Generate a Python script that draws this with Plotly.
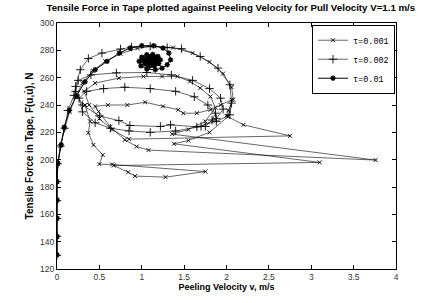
import plotly.graph_objects as go

# ---- data ----
# tau = 0.001  (x markers)
v_001 = [0, 0, 0, 0, 0, 0.01, 0.04, 0.09, 0.15, 0.22, 0.30, 0.42, 0.57, 0.75, 0.95, 1.15, 1.37, 1.60, 1.80, 1.96, 2.06, 2.08, 2.02, 2.00,
         2.20, 2.75, 0.85, 0.65, 0.50, 0.38, 0.32, 0.45, 0.73, 1.02, 1.24, 1.42, 1.57, 1.69, 1.81, 1.87, 1.75, 1.55, 1.36,
         3.76, 1.08, 0.94, 0.80, 0.63, 0.49, 0.45, 0.60, 0.83, 1.04, 1.25, 1.43, 1.49, 1.65, 1.81, 1.93, 2.06, 2.02, 1.80, 1.55, 1.38,
         3.10, 0.67, 0.84, 0.92, 1.28, 1.75, 0.65, 0.50, 0.54, 0.43, 0.37, 0.39, 0.33]
F_001 = [130, 144, 157, 170, 184, 197, 210, 223, 235, 246, 256, 265, 272, 277.5, 281.5, 283, 282, 278, 271.5, 263, 253, 244, 236, 232,
         225.5, 217.4, 215, 222, 230, 240, 250, 256, 259.7, 260.9, 260.9, 260.9, 257.2, 252.4, 246.2, 238, 228, 222, 218.7,
         199.7, 207, 209.6, 214.5, 224, 235.2, 239, 240, 240, 242, 239, 236.5, 234, 234, 236.5, 240, 243.8, 231.6, 220, 214, 211.6,
         198, 195.7, 190.8, 188, 187.2, 191.3, 196.5, 196.7, 203.5, 210.8, 219.6, 228, 240]

# tau = 0.002  (+ markers)
v_002 = [0, 0, 0, 0, 0, 0.01, 0.04, 0.09, 0.13, 0.20, 0.22, 0.275, 0.37, 0.53, 0.75, 0.88, 1.10, 1.30, 1.47, 1.69, 1.90, 2.04, 2.06, 2.04, 1.88,
         1.65, 1.34, 1.22, 0.86, 0.73, 0.50, 0.30, 0.22, 0.25, 0.40, 0.70, 1.06, 1.35, 1.60, 1.80, 1.93, 1.96, 1.88,
         1.70, 1.40, 1.10, 0.85, 0.63, 0.45, 0.30, 0.26, 0.35, 0.55, 0.80, 1.10, 1.40, 1.62, 1.78, 1.87, 1.83, 1.75]
F_002 = [130, 144, 157, 170, 184, 197, 210, 223, 236, 247, 253.6, 265.8, 274, 278, 281, 282.4, 283, 282, 281.2, 275.5, 267, 254.8, 241.4, 232.8, 228,
         224, 225.5, 224.3, 225, 228.6, 232, 240, 250, 258, 262, 263.5, 263.8, 262, 258, 252, 245, 237, 230,
         224.3, 221, 220, 221, 223, 227, 235, 245, 250, 252, 253, 252, 250, 246, 240, 234, 229, 224.3]

# tau = 0.01  (asterisk markers)
v_01 = [0, 0, 0, 0, 0, 0.01, 0.05, 0.086, 0.145, 0.23, 0.33, 0.45, 0.59, 0.735, 0.865, 1.00, 1.14, 1.25,
        1.32, 1.34, 1.30, 1.24, 1.16, 1.06, 0.99, 0.97, 1.00, 1.06, 1.13, 1.19, 1.22, 1.20, 1.15, 1.09, 1.04, 1.02,
        1.04, 1.07, 1.11, 1.15, 1.17, 1.17, 1.15, 1.12, 1.08, 1.05, 1.04, 1.05, 1.08, 1.11, 1.14, 1.155, 1.15, 1.13,
        1.10, 1.08, 1.07, 1.08, 1.10, 1.125, 1.14, 1.135, 1.12, 1.10, 1.09, 1.095, 1.11, 1.125, 1.13, 1.12, 1.105,
        1.10, 1.105, 1.115, 1.12, 1.115, 1.11, 1.112]
F_01 = [130.3, 143.7, 157, 170.5, 184, 197.4, 210.8, 223.8, 236, 246.7, 257, 265.8, 271.9, 278, 281.7, 283.4, 283.4, 281.7,
        278, 273, 269.5, 267, 265.8, 266.3, 268.7, 272, 275, 276.8, 277, 275.5, 273, 270.3, 268.6, 268.5, 270, 272.3,
        274, 275.2, 275.5, 274.8, 273.3, 271.5, 270, 269.2, 269.3, 270.3, 271.8, 273.2, 274.2, 274.4, 273.7, 272.5, 271.2, 270.3,
        270.1, 270.6, 271.7, 272.8, 273.4, 273.3, 272.5, 271.5, 270.9, 270.8, 271.3, 272.2, 272.8, 272.8, 272.2, 271.5, 271.2,
        271.6, 272.3, 272.5, 272.1, 271.7, 271.9, 272.0]

series_names = ["τ=0.001", "τ=0.002", "τ=0.01"]
x_ticks = [0, 0.5, 1, 1.5, 2, 2.5, 3, 3.5, 4]
x_tick_text = ["0", "0.5", "1", "1.5", "2", "2.5", "3", "3.5", "4"]
y_ticks = [120, 140, 160, 180, 200, 220, 240, 260, 280, 300]

FONT = "Liberation Sans, Arial"

fig = go.Figure()
fig.add_trace(go.Scatter(x=v_001, y=F_001, mode="lines+markers", name=series_names[0],
                         line=dict(color="black", width=0.6),
                         marker=dict(symbol="x-thin-open", size=4, color="black", line=dict(width=0.9, color="black"))))
fig.add_trace(go.Scatter(x=v_002, y=F_002, mode="lines+markers", name=series_names[1],
                         line=dict(color="black", width=0.6),
                         marker=dict(symbol="cross-thin-open", size=6, color="black", line=dict(width=0.9, color="black"))))
fig.add_trace(go.Scatter(x=v_01, y=F_01, mode="lines+markers", name=series_names[2],
                         line=dict(color="black", width=1.0),
                         marker=dict(symbol="asterisk-open", size=4.5, color="black", line=dict(width=1.3, color="black"))))

axis_common = dict(showgrid=False, zeroline=False, showline=True, linecolor="black", linewidth=1,
                   mirror="ticks", ticks="inside", ticklen=4, tickcolor="black", automargin=False,
                   tickfont=dict(family=FONT, size=8.5, color="#333"))

fig.update_layout(
    width=438, height=303,
    margin=dict(l=57, r=42, t=23, b=34, autoexpand=False),
    paper_bgcolor="white", plot_bgcolor="white",
    title=dict(text="<b>Tensile Force in Tape plotted against Peeling Velocity for Pull Velocity V=1.1 m/s</b>",
               font=dict(family=FONT, size=9.7, color="black"),
               x=0.527, xanchor="center", xref="container", y=0.985, yanchor="top"),
    xaxis=dict(range=[0, 4], tickvals=x_ticks, ticktext=x_tick_text,
               title=dict(text="<b>Peeling Velocity v, m/s</b>", font=dict(family=FONT, size=9, color="black"), standoff=2),
               **axis_common),
    yaxis=dict(range=[120, 300], tickvals=y_ticks,
               title=dict(text="<b>Tensile Force in Tape, F(u,u\u0307), N</b>", font=dict(family=FONT, size=10, color="black"), standoff=4),
               **axis_common),
    legend=dict(x=0.997, y=0.993, xanchor="right", yanchor="top", bgcolor="white",
                bordercolor="black", borderwidth=1,
                font=dict(family="Liberation Mono, Courier New", size=8.5, color="black"),
                tracegroupgap=0, itemwidth=30),
    showlegend=True,
)

fig.write_html("out.html", config={"displayModeBar": False},
               post_script="document.body.style.margin='0';document.body.style.overflow='hidden';")
